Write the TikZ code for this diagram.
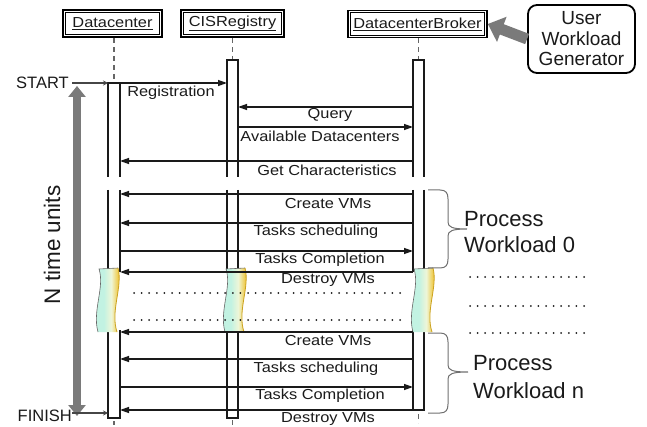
\documentclass[tikz,border=0pt]{standalone}
\usepackage{fontspec}
\setmainfont{Liberation Sans}
\newfontfamily\lblfont{Liberation Sans}[FakeStretch=1.13]
\usetikzlibrary{arrows.meta}
\definecolor{arrowgray}{HTML}{7A7A7A}
\definecolor{tapeaqua}{HTML}{C2F2E2}
\definecolor{tapepale}{HTML}{EEF6D8}
\definecolor{tapeyellow}{HTML}{EFBE22}
\definecolor{txt}{HTML}{1A1A1A}
\definecolor{bracegray}{HTML}{707070}
\pgfdeclarehorizontalshading{tapeshade}{100bp}{color(0bp)=(tapeaqua); color(25bp)=(tapeaqua); color(44bp)=(tapeaqua); color(56bp)=(tapepale); color(65bp)=(tapeyellow!65!tapepale); color(72bp)=(tapeyellow); color(100bp)=(tapeyellow)}
\begin{document}
\begin{tikzpicture}[x=1pt,y=-1pt,
  hdr/.style={draw, line width=1.6pt, minimum height=27pt, inner sep=0pt, font=\lblfont\fontsize{14.5}{16}\selectfont, text=txt},
  lbl/.style={font=\lblfont\fontsize{14.5}{16}\selectfont, inner sep=0pt, text=txt},
  msg/.style={line width=1.3pt, txt, -{Triangle[length=9pt,width=6pt]}},
  bar/.style={line width=1.2pt, txt},
  life/.style={line width=1.2pt, gray!80!black, dash pattern=on 5pt off 4pt},
  dots/.style={line width=2pt, line cap=round, dash pattern=on 0pt off 7.6pt, txt},
  bigtxt/.style={font=\fontsize{22}{24}\selectfont, inner sep=0pt, text=txt},
  sidetxt/.style={font=\fontsize{16.5}{18}\selectfont, inner sep=0pt, text=txt},
  startln/.style={line width=1.8pt, gray!55!black, -{Stealth[length=5pt,width=5pt]}},
  curly/.style={line width=1pt, bracegray},
  tape/.pic={
    \path[shading=tapeshade]
      (1,0) -- (20,-1) .. controls (25,18) and (12,42) .. (19,63) -- (0,63) .. controls (-6,42) and (7,18) .. (1,0) -- cycle;
    \draw[line width=0.6pt, gray!80!black] (0,63) .. controls (-6,42) and (7,18) .. (1,0) -- (20,-1);
    \draw[line width=0.8pt, tapeyellow!85!black] (20,-1) .. controls (25,18) and (12,42) .. (19,63);
  }
]
\useasboundingbox (0,0) rectangle (647,427);

% header boxes
\node[hdr, minimum width=99pt] (dch) at (112.5,23.5) {\underline{Datacenter}};
\node[hdr, minimum width=103pt] (cish) at (232.5,23.5) {\underline{CISRegistry}};
\node[hdr, minimum width=139pt] (brkh) at (417.5,24) {\underline{DatacenterBroker}};
\foreach \n in {dch,cish,brkh}
  \draw[line width=0.7pt] ([shift={(3,3)}]\n.north west) rectangle ([shift={(-3,-3)}]\n.south east);

% user workload generator
\node[draw, line width=1.8pt, rounded corners=9pt, minimum width=107pt, minimum height=68pt,
  align=center, font=\fontsize{19}{20.5}\selectfont, inner sep=0pt, text=txt] (uwg) at (581.5,39)
  {User\\Workload\\Generator};
\draw[line width=11pt, arrowgray, -{Triangle[length=15pt,width=26pt]}] (uwg.west) -- (brkh.east);

% bar edges and lifeline centres
\coordinate (dcL) at (108,0); \coordinate (dcR) at (120,0); \coordinate (dcM) at (114,0);
\coordinate (cisL) at (227,0); \coordinate (cisR) at (238,0); \coordinate (cisM) at (232.5,0);
\coordinate (brkL) at (413,0); \coordinate (brkR) at (424,0); \coordinate (brkM) at (418.5,0);

% dashed lifelines
\draw[life] (dcM |- dch.south) -- (114,83);
\draw[life] (cisM |- cish.south) -- (232.5,60);
\draw[life] (brkM |- brkh.south) -- (418.5,60);
\draw[life] (114,421) -- (114,425);
\draw[life] (232.5,420) -- (232.5,427);
\draw[life] (418.5,414) -- (418.5,423);

% activation bars
\draw[bar] (108,177) -- (108,83) -- (120,83) -- (120,177);
\draw[bar] (108,190) -- (108,272) (120,190) -- (120,272);
\draw[bar] (108,330) -- (108,418) -- (120,418) -- (120,330);
\draw[bar] (227,177) -- (227,60) -- (238,60) -- (238,177);
\draw[bar] (227,190) -- (227,272) (238,190) -- (238,272);
\draw[bar] (227,330) -- (227,418) -- (238,418) -- (238,330);
\draw[bar] (413,177) -- (413,60) -- (424,60) -- (424,177);
\draw[bar] (413,190) -- (413,272) (424,190) -- (424,272);
\draw[bar] (413,330) -- (413,410) -- (424,410) -- (424,330);

% broken parts of the bars
\pic (dctape) at (98,269) {tape};
\pic (cistape) at (225,269) {tape};
\pic (brktape) at (413,269) {tape};

% time arrow
\coordinate (tTop) at (77,86);
\coordinate (tBot) at (77,416);
\draw[line width=8pt, arrowgray, {Triangle[length=11pt,width=17pt]}-{Triangle[length=11pt,width=17pt]}] (tTop) -- (tBot);
\node[rotate=90, font=\fontsize{22.5}{24}\selectfont, inner sep=0pt, text=txt] (ntu) at (52,245) {N time units};

% start / finish
\node[sidetxt, anchor=east] (start) at (69,83) {START};
\draw[startln] ([xshift=3pt]start.east) -- (dcL |- start.east);
\node[sidetxt, anchor=east] (finish) at (72,416) {FINISH};
\coordinate (fin) at (72,413);
\draw[startln] (fin) -- (dcL |- fin);

% messages
\coordinate (m1) at (0,83);   \coordinate (m2) at (0,107);  \coordinate (m3) at (0,127);
\coordinate (m4) at (0,161);  \coordinate (m5) at (0,194);  \coordinate (m6) at (0,223);
\coordinate (m7) at (0,251);  \coordinate (m8) at (0,272);  \coordinate (m9) at (0,332);
\coordinate (m10) at (0,359); \coordinate (m11) at (0,387); \coordinate (m12) at (0,410);

\draw[msg] (dcR |- m1) -- (cisL |- m1);
\draw[msg] (brkL |- m2) -- (cisR |- m2);
\draw[msg] (cisR |- m3) -- (brkL |- m3);
\draw[msg] (brkL |- m4) -- (dcR |- m4);
\draw[msg] (brkL |- m5) -- (dcR |- m5);
\draw[msg] (brkL |- m6) -- (dcR |- m6);
\draw[msg] (dcR |- m7) -- (brkL |- m7);
\draw[msg] (brkL |- m8) -- (dcR |- m8);
\draw[msg] (brkL |- m9) -- (dcR |- m9);
\draw[msg] (brkL |- m10) -- (dcR |- m10);
\draw[msg] (dcR |- m11) -- (brkL |- m11);
\draw[msg] (brkL |- m12) -- (dcR |- m12);

\node[lbl] (l1) at (171,93) {Registration};
\node[lbl] (l2) at (330,115) {Query};
\node[lbl] (l3) at (320,136) {Available Datacenters};
\node[lbl] (l4) at (327,170) {Get Characteristics};
\node[lbl] (l5) at (328,204) {Create VMs};
\node[lbl] (l6) at (316,232) {Tasks scheduling};
\node[lbl] (l7) at (320,260) {Tasks Completion};
\node[lbl] (l8) at (328,280) {Destroy VMs};
\node[lbl] (l9) at (328,341) {Create VMs};
\node[lbl] (l10) at (316,369) {Tasks scheduling};
\node[lbl] (l11) at (320,396) {Tasks Completion};
\node[lbl] (l12) at (328,419) {Destroy VMs};

% dotted separators
\draw[dots] (134,293) -- (404,293);
\draw[dots] (134,320) -- (404,320);
\draw[dots] (470,277) -- (587,277);
\draw[dots] (470,306) -- (587,306);
\draw[dots] (470,333) -- (587,333);

% braces
\draw[curly] (428,190) -- (440,190) .. controls (446,190) and (448,193) .. (448,199) -- (448,222)
  .. controls (448,227) and (452,229) .. (467,229)
  .. controls (452,229) and (448,231) .. (448,236) -- (448,259)
  .. controls (448,265) and (446,268) .. (440,268) -- (428,268);
\draw[curly] (428,333) -- (440,333) .. controls (446,333) and (448,336) .. (448,342) -- (448,365)
  .. controls (448,370) and (452,372) .. (468,372)
  .. controls (452,372) and (448,374) .. (448,379) -- (448,404)
  .. controls (448,410) and (446,413) .. (440,413) -- (428,413);

\node[bigtxt, anchor=base west] (p0a) at (464,227) {Process};
\node[bigtxt, anchor=base west] (p0b) at (464,253) {Workload 0};
\node[bigtxt, anchor=base west] (pna) at (473,370) {Process};
\node[bigtxt, anchor=base west] (pnb) at (473,398) {Workload n};
\end{tikzpicture}
\end{document}
